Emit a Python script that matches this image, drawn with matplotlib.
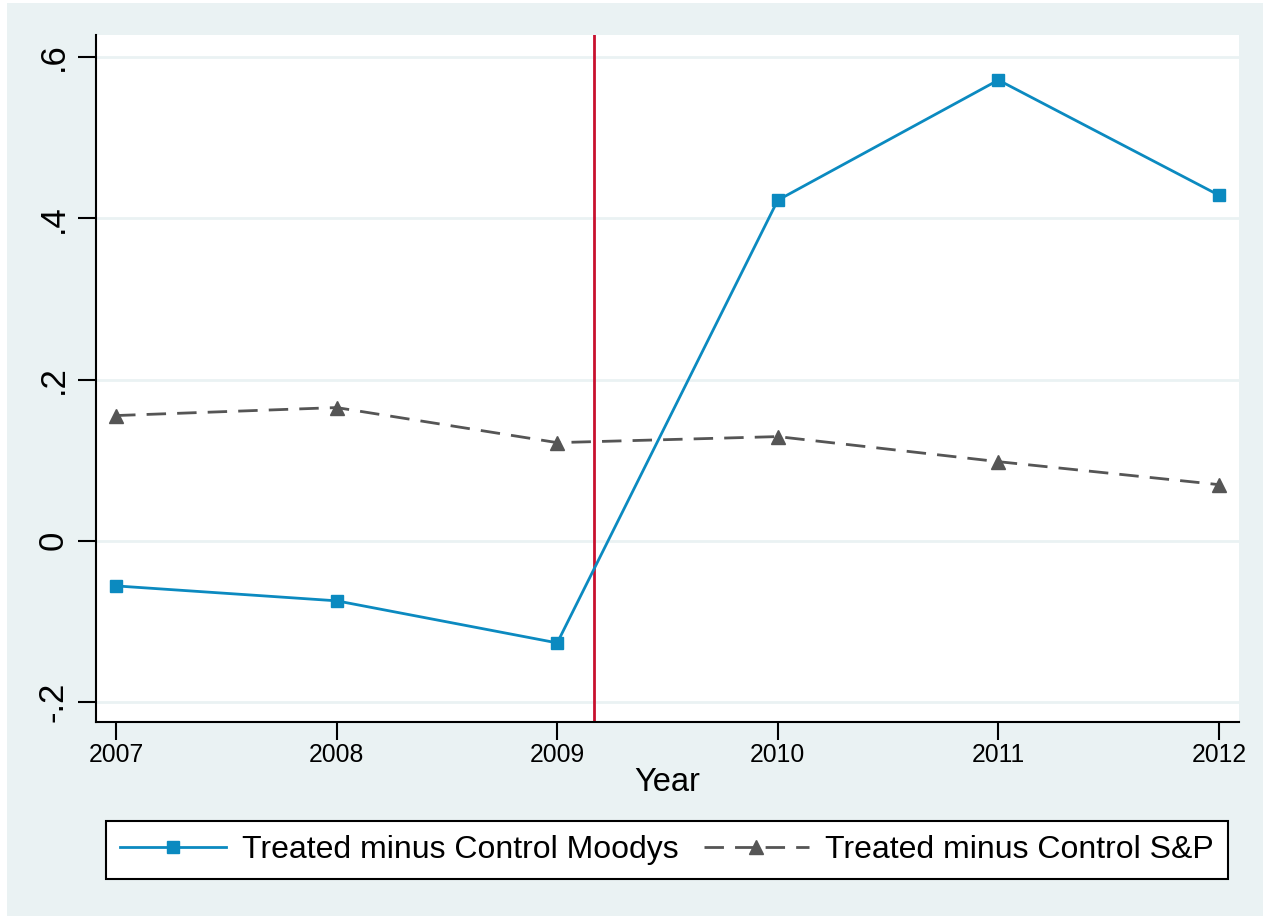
import matplotlib.pyplot as plt
from matplotlib.patches import Rectangle

plt.rcParams['font.family'] = ['Liberation Sans', 'DejaVu Sans']

years = [2007, 2008, 2009, 2010, 2011, 2012]
moodys = [-0.056, -0.0745, -0.1267, 0.4224, 0.5714, 0.4286]
sp = [0.1553, 0.1652, 0.1217, 0.1292, 0.0981, 0.0696]
event_x = 2009.167
yticks = [-0.2, 0, 0.2, 0.4, 0.6]
ylabels = ['-.2', '0', '.2', '.4', '.6']

bg = '#eaf2f3'
fig = plt.figure(figsize=(12.7, 9.19), dpi=100)
fig.patch.set_facecolor('white')
fig.patches.append(Rectangle((7/1270, 1 - 916/919), 1263/1270 - 7/1270, 913/919,
                             transform=fig.transFigure, facecolor=bg, edgecolor='none', zorder=-10))

ax = fig.add_axes([96/1270, 1 - 722/919, (1239 - 96)/1270, (722 - 35)/919])
ax.set_facecolor('white')

for t in yticks:
    ax.axhline(t, color=bg, lw=2, zorder=0)

ax.axvline(event_x, color='#c8102e', lw=2, zorder=2)
ax.plot(years, moodys, color='#0b8ac0', lw=2, marker='s', ms=9,
        label='Treated minus Control Moodys', zorder=3)
ax.plot(years, sp, color='#555555', lw=2, ls=(0, (7, 4)), marker='^', ms=10,
        label='Treated minus Control S&P', zorder=3)

ax.set_xlim(2006.909, 2012.091)
ax.set_ylim(-0.2248, 0.6273)
ax.set_xticks(years)
ax.set_xticklabels([str(y) for y in years], fontsize=17.8)
ax.set_yticks(yticks)
ax.set_yticklabels(ylabels, fontsize=25, rotation=90, va='center')
ax.tick_params(length=13, width=1.5, color='black')
ax.tick_params(axis='x', pad=2)
ax.tick_params(axis='y', pad=6)
ax.set_xlabel('Year', fontsize=23.5, labelpad=0)

for s in ['top', 'right']:
    ax.spines[s].set_visible(False)
for s in ['left', 'bottom']:
    ax.spines[s].set_linewidth(1.5)

leg = fig.legend(loc='center', bbox_to_anchor=(667/1270, 1 - 850/919), ncol=2,
                 fontsize=23, frameon=True, fancybox=False, edgecolor='black',
                 framealpha=1, handlelength=3.3, columnspacing=0.8, handletextpad=0.5,
                 borderpad=0.45, borderaxespad=0)
leg.get_frame().set_linewidth(1.5)

fig.savefig('out.png', dpi=100, facecolor=fig.get_facecolor())
